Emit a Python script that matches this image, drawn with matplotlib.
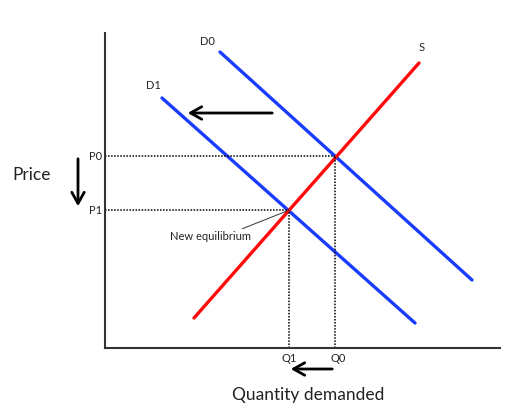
import matplotlib
matplotlib.use("Agg")
import matplotlib.pyplot as plt

plt.rcParams['font.family'] = ['Lato', 'DejaVu Sans']

# Data (arbitrary units: quantity on x, price on y)
d0_x = [115, 367]
d0_y = [296, 68]
d1_x = [57, 310]
d1_y = [250, 25]
s_x = [89, 314]
s_y = [30, 285]
p0, p1 = 192, 138
q0, q1 = 230, 184
curve_labels = ["D0", "D1", "S"]
price_labels = ["P0", "P1"]
qty_labels = ["Q0", "Q1"]

fig = plt.figure(figsize=(5.25, 4.2), dpi=100)
ax = fig.add_axes([105/525, 72/420, 395/525, 315/420])
ax.set_xlim(0, 395)
ax.set_ylim(0, 315)
for sp in ["top", "right"]:
    ax.spines[sp].set_visible(False)
for sp in ["left", "bottom"]:
    ax.spines[sp].set_color("#333333")
    ax.spines[sp].set_linewidth(1.5)
ax.set_xticks([])
ax.set_yticks([])

blue = "#1a3cff"
red = "#ff0a0a"
ax.plot(d0_x, d0_y, color=blue, lw=2.4, solid_capstyle="round")
ax.plot(d1_x, d1_y, color=blue, lw=2.4, solid_capstyle="round")
ax.plot(s_x, s_y, color=red, lw=2.4, solid_capstyle="round")

# dotted guides
dot = (0, (1, 1.0))
ax.plot([0, q0], [p0, p0], color="black", lw=1.1, ls=dot)
ax.plot([0, q1], [p1, p1], color="black", lw=1.1, ls=dot)
ax.plot([q0, q0], [0, p0], color="black", lw=1.1, ls=dot)
ax.plot([q1, q1], [0, p1], color="black", lw=1.1, ls=dot)

fs = 8
tc = "#222222"
ax.text(d0_x[0] - 5, d0_y[0] + 5, curve_labels[0], fontsize=fs, ha="right", va="bottom", color=tc)
ax.text(d1_x[0] - 1, d1_y[0] + 7, curve_labels[1], fontsize=fs, ha="right", va="bottom", color=tc)
ax.text(s_x[1] + 3, s_y[1] + 10, curve_labels[2], fontsize=fs, ha="center", va="bottom", color=tc)
ax.text(-3, p0, price_labels[0], fontsize=fs, ha="right", va="center", color=tc)
ax.text(-3, p1, price_labels[1], fontsize=fs, ha="right", va="center", color=tc)
ax.text(q0 + 3, -5, qty_labels[0], fontsize=fs, ha="center", va="top", color=tc)
ax.text(q1, -5, qty_labels[1], fontsize=fs, ha="center", va="top", color=tc)

ax.text(-73, 173, "Price", fontsize=12.5, ha="center", va="center", color=tc)
ax.text(203, -47, "Quantity demanded", fontsize=12.5, ha="center", va="center", color=tc)

# arrows
ap = dict(arrowstyle="->,head_length=0.8,head_width=0.45", color="black", lw=2)
ax.annotate("", xy=(80, 235), xytext=(170, 235), arrowprops=ap, annotation_clip=False)
ax.annotate("", xy=(-27, 139), xytext=(-27, 192), arrowprops=ap, annotation_clip=False)
ax.annotate("", xy=(183, -21), xytext=(230, -21), arrowprops=ap, annotation_clip=False)

# new equilibrium annotation
ax.annotate("New equilibrium", xy=(q1 - 2, p1 - 1), xytext=(106, 111), fontsize=fs,
            ha="center", va="center", color=tc,
            arrowprops=dict(arrowstyle="-", color="#333333", lw=0.7,
                            shrinkA=0, shrinkB=0, relpos=(0.8, 1.0)))

fig.savefig("out.png", dpi=100)
